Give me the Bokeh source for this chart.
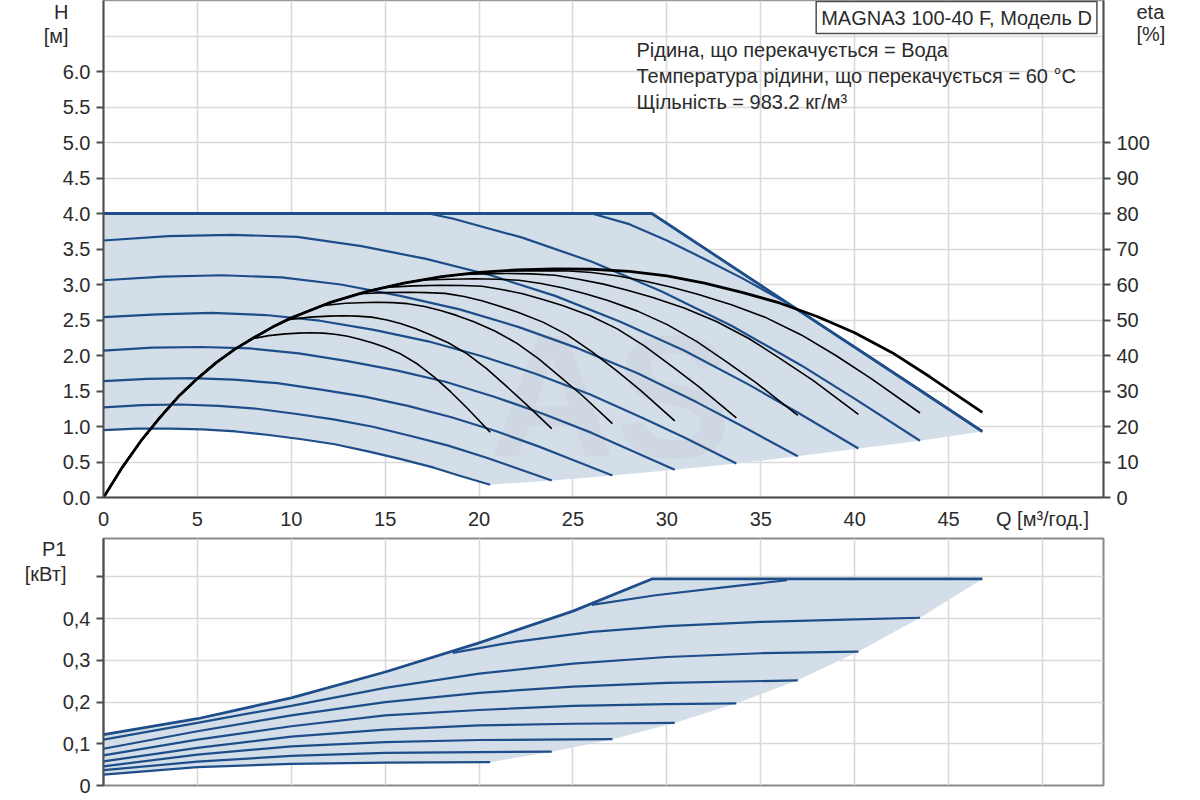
from bokeh.plotting import figure
from bokeh.models import (Range1d, LinearAxis, FixedTicker, Label, Grid,
                          NumeralTickFormatter)
from bokeh.layouts import column
from bokeh.embed import file_html
from bokeh.resources import INLINE

FONT = "Liberation Sans"
BLUE = "#1d4e89"
FILL = "#d4dee9"
TXT = "#2b2b2b"
FS = "20px"

# ---------------- ticks ----------------
q_ticks = [0, 5, 10, 15, 20, 25, 30, 35, 40, 45, 50]
q_labels = {50: "Q [м³/год.]"}
h_ticks = [0.0, 0.5, 1.0, 1.5, 2.0, 2.5, 3.0, 3.5, 4.0, 4.5, 5.0, 5.5, 6.0]
h_grid = [0.0, 0.5, 1.0, 1.5, 2.0, 2.5, 3.0, 3.5, 4.0, 4.5, 5.0, 5.5, 6.0, 6.5]
h_title_pos = [6.507, 6.86]
h_title = {6.507: "[м]", 6.86: "H"}
eta_ticks = [0, 10, 20, 30, 40, 50, 60, 70, 80, 90, 100]
eta_title_pos = [130.7, 137.2]
eta_title = {130.7: "[%]", 137.2: "eta"}
p_ticks = [0, 0.1, 0.2, 0.3, 0.4, 0.5]
p_labels = {0: "0", 0.1: "0,1", 0.2: "0,2", 0.3: "0,3", 0.4: "0,4", 0.5: ""}
p_title_pos = [0.508, 0.566]
p_title = {0.508: "[кВт]", 0.566: "P1"}

# ---------------- QH curves (Q m3/h, H m) ----------------
env_q = [0, 29.2, 46.8]
env_h = [4.0, 4.0, 0.93]

qh100_q = [26.0, 28.0, 30.0, 32.0, 34.0, 36.4, 40.0, 43.0, 46.8]
qh100_h = [4.0, 3.85, 3.62, 3.36, 3.09, 2.74, 2.12, 1.60, 0.93]
qh93_q = [17.3, 18.58, 22.30, 26.01, 29.73, 33.44, 37.16, 39.95, 43.48]
qh93_h = [4.0, 3.93, 3.66, 3.32, 2.90, 2.42, 1.86, 1.40, 0.80]
qh86_q = [0, 3.44, 6.87, 10.31, 13.74, 17.18, 20.62, 24.05, 27.49, 30.92, 34.36, 36.94, 40.20]
qh86_h = [3.62, 3.68, 3.70, 3.67, 3.54, 3.36, 3.13, 2.84, 2.48, 2.07, 1.59, 1.20, 0.69]
qh79_q = [0, 3.16, 6.32, 9.48, 12.64, 15.80, 18.96, 22.12, 25.28, 28.44, 31.60, 33.97, 36.97]
qh79_h = [3.06, 3.11, 3.13, 3.10, 3.00, 2.84, 2.65, 2.40, 2.10, 1.75, 1.34, 1.01, 0.58]
qh72_q = [0, 2.88, 5.76, 8.64, 11.52, 14.40, 17.28, 20.16, 23.04, 25.92, 28.80, 30.96, 33.70]
qh72_h = [2.54, 2.58, 2.60, 2.57, 2.49, 2.36, 2.20, 1.99, 1.74, 1.45, 1.11, 0.84, 0.48]
qh65_q = [0, 2.60, 5.20, 7.80, 10.40, 13.00, 15.60, 18.20, 20.80, 23.40, 26.00, 27.95, 30.42]
qh65_h = [2.07, 2.11, 2.12, 2.10, 2.03, 1.92, 1.79, 1.63, 1.42, 1.18, 0.91, 0.68, 0.39]
qh58_q = [0, 2.32, 4.63, 6.95, 9.26, 11.58, 13.90, 16.21, 18.53, 20.84, 23.16, 24.90, 27.10]
qh58_h = [1.64, 1.67, 1.68, 1.66, 1.61, 1.52, 1.42, 1.29, 1.13, 0.94, 0.72, 0.54, 0.31]
qh51_q = [0, 2.04, 4.08, 6.12, 8.16, 10.20, 12.24, 14.28, 16.32, 18.36, 20.40, 21.93, 23.87]
qh51_h = [1.27, 1.30, 1.31, 1.29, 1.25, 1.18, 1.10, 1.00, 0.87, 0.73, 0.56, 0.42, 0.24]
qh44_q = [0, 1.76, 3.52, 5.28, 7.04, 8.80, 10.56, 12.32, 14.08, 15.84, 17.60, 18.92, 20.59]
qh44_h = [0.95, 0.97, 0.97, 0.96, 0.93, 0.88, 0.82, 0.75, 0.65, 0.54, 0.42, 0.31, 0.18]

# ---------------- efficiency curves (eta %) ----------------
eta100_q = [0, 1, 2, 3, 4, 5, 6, 7, 8, 9, 10, 12, 14, 16, 18, 20, 22, 24, 26, 28, 30,
            32, 34, 36, 38, 40, 42, 44, 46.8]
eta100 = [0, 8.5, 16, 22.5, 28.5, 33.5, 38, 41.8, 45, 48, 50.6, 54.8, 58, 60.4, 62.2,
          63.4, 64.1, 64.4, 64.3, 63.7, 62.4, 60.4, 57.8, 54.8, 51.0, 46.4, 40.8, 34.0, 24.0]
eta93_q = [21.0, 23.2, 24.8, 26.0, 27.4, 28.8, 30.2, 31.6, 33.44, 35.3, 37.16, 39.0, 40.9, 43.48]
eta93 = [63.8, 63.9, 63.8, 63.4, 62.4, 61.0, 59.3, 57.3, 54.3, 50.6, 45.8, 40.0, 33.4, 23.8]
eta86_q = [19.0, 20.3, 21.48, 22.8, 24.05, 25.3, 26.63, 27.9, 29.21, 30.92, 32.64, 34.36, 36.08, 37.8, 40.2]
eta86 = [62.8, 63.0, 63.1, 63.0, 62.6, 61.5, 60.1, 58.4, 56.4, 53.4, 49.6, 44.8, 39.0, 32.9, 23.4]
eta79_q = [17.0, 18.5, 19.75, 21.0, 22.12, 23.3, 24.49, 25.7, 26.86, 28.44, 30.02, 31.6, 33.18, 34.76, 36.97]
eta79 = [61.3, 61.5, 61.6, 61.5, 61.2, 60.3, 59.0, 57.3, 55.5, 52.5, 48.7, 43.9, 38.2, 32.3, 23.1]
eta72_q = [15.0, 16.5, 18.0, 19.1, 20.16, 21.2, 22.32, 23.4, 24.48, 25.92, 27.36, 28.8, 30.24, 31.68, 33.70]
eta72 = [59.2, 59.6, 59.8, 59.7, 59.5, 58.6, 57.4, 55.8, 54.0, 51.2, 47.5, 42.7, 37.1, 31.3, 22.4]
eta65_q = [13.6, 15.0, 16.25, 17.2, 18.2, 19.2, 20.15, 21.1, 22.1, 23.4, 24.7, 26.0, 27.3, 28.6, 30.42]
eta65 = [57.4, 57.7, 57.8, 57.7, 57.5, 56.6, 55.4, 53.9, 52.1, 49.4, 45.8, 41.1, 35.8, 30.2, 21.6]
eta58_q = [11.6, 12.9, 14.48, 15.4, 16.21, 17.1, 17.95, 18.8, 19.69, 20.84, 22.0, 23.16, 24.32, 25.48, 27.10]
eta58 = [54.0, 54.7, 55.0, 54.9, 54.6, 53.8, 52.7, 51.3, 49.6, 46.9, 43.5, 39.1, 34.0, 28.8, 20.8]
eta51_q = [9.8, 11.0, 12.0, 12.75, 13.5, 14.28, 15.1, 15.81, 16.6, 17.34, 18.36, 19.38, 20.4, 21.42, 22.44, 23.87]
eta51 = [50.1, 50.8, 51.1, 51.2, 51.1, 50.8, 50.0, 49.0, 47.6, 46.0, 43.6, 40.4, 36.3, 31.5, 26.6, 19.4]
eta44_q = [7.9, 8.8, 9.68, 10.4, 11.0, 11.7, 12.32, 13.0, 13.64, 14.3, 14.96, 15.84, 16.72, 17.6, 18.48, 19.36, 20.59]
eta44 = [44.7, 45.6, 46.1, 46.3, 46.4, 46.3, 46.0, 45.4, 44.6, 43.6, 42.4, 40.4, 37.6, 34.0, 29.8, 25.2, 18.4]

# ---------------- power curves (P1 kW) ----------------
penv_q = [0, 5, 10, 15, 20, 25, 29.2, 46.8]
penv = [0.122, 0.160, 0.210, 0.272, 0.342, 0.418, 0.495, 0.495]
p100_q = [26.0, 29.4, 33.6, 36.4]
p100 = [0.433, 0.456, 0.478, 0.492]
p93_q = [18.6, 22, 26, 30, 35, 40, 43.48]
p93 = [0.318, 0.345, 0.368, 0.382, 0.392, 0.398, 0.402]
p86_q = [0, 5, 10, 15, 20, 25, 30, 35, 40.2]
p86 = [0.110, 0.150, 0.191, 0.234, 0.268, 0.292, 0.308, 0.317, 0.321]
p79_q = [0, 5, 10, 15, 20, 25, 30, 36.97]
p79 = [0.088, 0.130, 0.168, 0.200, 0.222, 0.237, 0.246, 0.252]
p72_q = [0, 5, 10, 15, 20, 25, 30, 33.70]
p72 = [0.072, 0.110, 0.142, 0.168, 0.181, 0.191, 0.195, 0.197]
p65_q = [0, 5, 10, 15, 20, 25, 30.42]
p65 = [0.058, 0.090, 0.117, 0.134, 0.144, 0.148, 0.150]
p58_q = [0, 5, 10, 15, 20, 27.10]
p58 = [0.046, 0.074, 0.094, 0.104, 0.109, 0.111]
p51_q = [0, 5, 10, 15, 20, 23.87]
p51 = [0.037, 0.057, 0.071, 0.078, 0.080, 0.081]
p44_q = [0, 5, 10, 15, 20.59]
p44 = [0.026, 0.044, 0.052, 0.055, 0.056]

info_lines = ["Рідина, що перекачується = Вода",
              "Температура рідини, що перекачується = 60 °C",
              "Щільність = 983.2 кг/м³"]
title_text = "MAGNA3 100-40 F, Модель D"

# ---------------- derived series ----------------
qh_curves = [(qh100_q, qh100_h), (qh93_q, qh93_h), (qh86_q, qh86_h), (qh79_q, qh79_h),
             (qh72_q, qh72_h), (qh65_q, qh65_h), (qh58_q, qh58_h), (qh51_q, qh51_h),
             (qh44_q, qh44_h)]
eta_tails = [(eta93_q, eta93), (eta86_q, eta86), (eta79_q, eta79), (eta72_q, eta72),
             (eta65_q, eta65), (eta58_q, eta58), (eta51_q, eta51), (eta44_q, eta44)]
p_curves = [(p100_q, p100), (p93_q, p93), (p86_q, p86), (p79_q, p79), (p72_q, p72),
            (p65_q, p65), (p58_q, p58), (p51_q, p51), (p44_q, p44)]

X_END = 53.25
H_END = 7.0
ETA_END = H_END * 20


def style_axis(ax):
    ax.axis_line_color = "#4d4d4d"
    ax.axis_line_width = 2
    ax.major_tick_line_color = "#4d4d4d"
    ax.major_tick_line_width = 2
    ax.major_tick_out = 7
    ax.major_tick_in = 0
    ax.minor_tick_line_color = None
    ax.major_label_text_font = FONT
    ax.major_label_text_font_size = FS
    ax.major_label_text_color = TXT
    ax.major_label_standoff = 6


def title_axis(ax, standoff):
    style_axis(ax)
    ax.axis_line_color = None
    ax.major_tick_line_color = None
    ax.major_tick_out = 0
    ax.major_label_standoff = standoff


# ================= top chart =================
top = figure(frame_width=1000, frame_height=497,
             x_range=Range1d(0, X_END), y_range=Range1d(0, H_END),
             output_backend="svg", toolbar_location=None,
             min_border_left=103, min_border_right=90,
             min_border_top=0, min_border_bottom=33)
top.extra_y_ranges = {"eta": Range1d(0, ETA_END)}
top.outline_line_color = "#9a9a9a"
top.outline_line_width = 1.5

top.xaxis.ticker = FixedTicker(ticks=q_ticks)
top.xaxis.major_label_overrides = q_labels
top.yaxis.ticker = FixedTicker(ticks=h_ticks)
top.yaxis.formatter = NumeralTickFormatter(format="0.0")
for ax in top.xaxis + top.yaxis:
    style_axis(ax)
top.xaxis.major_tick_out = 0
top.xaxis.major_label_standoff = 10

h_axis2 = LinearAxis(ticker=FixedTicker(ticks=h_title_pos), major_label_overrides=h_title)
title_axis(h_axis2, -9)
top.add_layout(h_axis2, "left")

eta_axis = LinearAxis(y_range_name="eta", ticker=FixedTicker(ticks=eta_ticks))
style_axis(eta_axis)
top.add_layout(eta_axis, "right")
eta_axis2 = LinearAxis(y_range_name="eta", ticker=FixedTicker(ticks=eta_title_pos),
                       major_label_overrides=eta_title)
title_axis(eta_axis2, -16)
top.add_layout(eta_axis2, "right")

top.xgrid.ticker = FixedTicker(ticks=q_ticks)
top.ygrid.ticker = FixedTicker(ticks=h_grid)
for g in top.xgrid + top.ygrid:
    g.grid_line_color = "#d9d9d9"
    g.grid_line_width = 1.6

# envelope fill
fill_q = env_q + [c[0][-1] for c in qh_curves[1:]] + qh44_q[::-1][1:]
fill_h = env_h + [c[1][-1] for c in qh_curves[1:]] + qh44_h[::-1][1:]
top.patch(fill_q, fill_h, fill_color=FILL, line_color=None)

# watermark
top.add_layout(Label(x=27.0, y=1.42, text="AS", text_font=FONT, text_font_size="175px",
                     text_font_style="bold", text_color="#6b6b6b", text_alpha=0.05,
                     text_align="center", text_baseline="middle"))

for q, h in qh_curves:
    top.line(q, h, line_color=BLUE, line_width=2.2)
top.line(env_q, env_h, line_color=BLUE, line_width=2.8)

# efficiency curves (inner curves share the rising branch of the outer one)
for tq, te in eta_tails:
    rq = [q for q in eta100_q if q < tq[0]]
    re = eta100[:len(rq)]
    top.line(rq + tq, re + te, line_color="black", line_width=1.6, y_range_name="eta")
top.line(eta100_q, eta100, line_color="black", line_width=2.8, y_range_name="eta")

# texts
for i, t in enumerate(info_lines):
    top.add_layout(Label(x=28.38, y=6.296 - i * 0.36, text=t, text_font=FONT,
                         text_font_size=FS, text_color=TXT,
                         text_align="left", text_baseline="middle"))
top.add_layout(Label(x=52.9, y=6.76, text=title_text, text_font=FONT,
                     text_font_size=FS, text_color=TXT, text_align="right",
                     text_baseline="middle", border_line_color="#4d4d4d",
                     border_line_width=1.5, background_fill_color="white",
                     padding=5))

# ================= bottom chart =================
bot = figure(frame_width=1000, frame_height=247,
             x_range=top.x_range, y_range=Range1d(0, 0.592),
             output_backend="svg", toolbar_location=None, x_axis_location=None,
             min_border_left=103, min_border_right=90,
             min_border_top=6, min_border_bottom=14)
bot.outline_line_color = "#8a8a8a"
bot.outline_line_width = 2
bot.yaxis.ticker = FixedTicker(ticks=p_ticks)
bot.yaxis.major_label_overrides = p_labels
for ax in bot.yaxis:
    style_axis(ax)
p_axis2 = LinearAxis(ticker=FixedTicker(ticks=p_title_pos), major_label_overrides=p_title)
title_axis(p_axis2, -7)
bot.add_layout(p_axis2, "left")

bot.ygrid.ticker = FixedTicker(ticks=p_ticks)
for g in bot.ygrid:
    g.grid_line_color = "#d9d9d9"
    g.grid_line_width = 1.6
bot.add_layout(Grid(dimension=0, ticker=FixedTicker(ticks=q_ticks),
                    grid_line_color="#d9d9d9", grid_line_width=1.6))

pfill_q = penv_q + [c[0][-1] for c in p_curves[1:]] + p44_q[::-1][1:]
pfill = penv + [c[1][-1] for c in p_curves[1:]] + p44[::-1][1:]
bot.patch(pfill_q, pfill, fill_color=FILL, line_color=None)
for q, pv in p_curves:
    bot.line(q, pv, line_color=BLUE, line_width=2.2)
bot.line(penv_q, penv, line_color=BLUE, line_width=2.8)

layout = column(top, bot)
open("out.html", "w").write(file_html(layout, INLINE))
